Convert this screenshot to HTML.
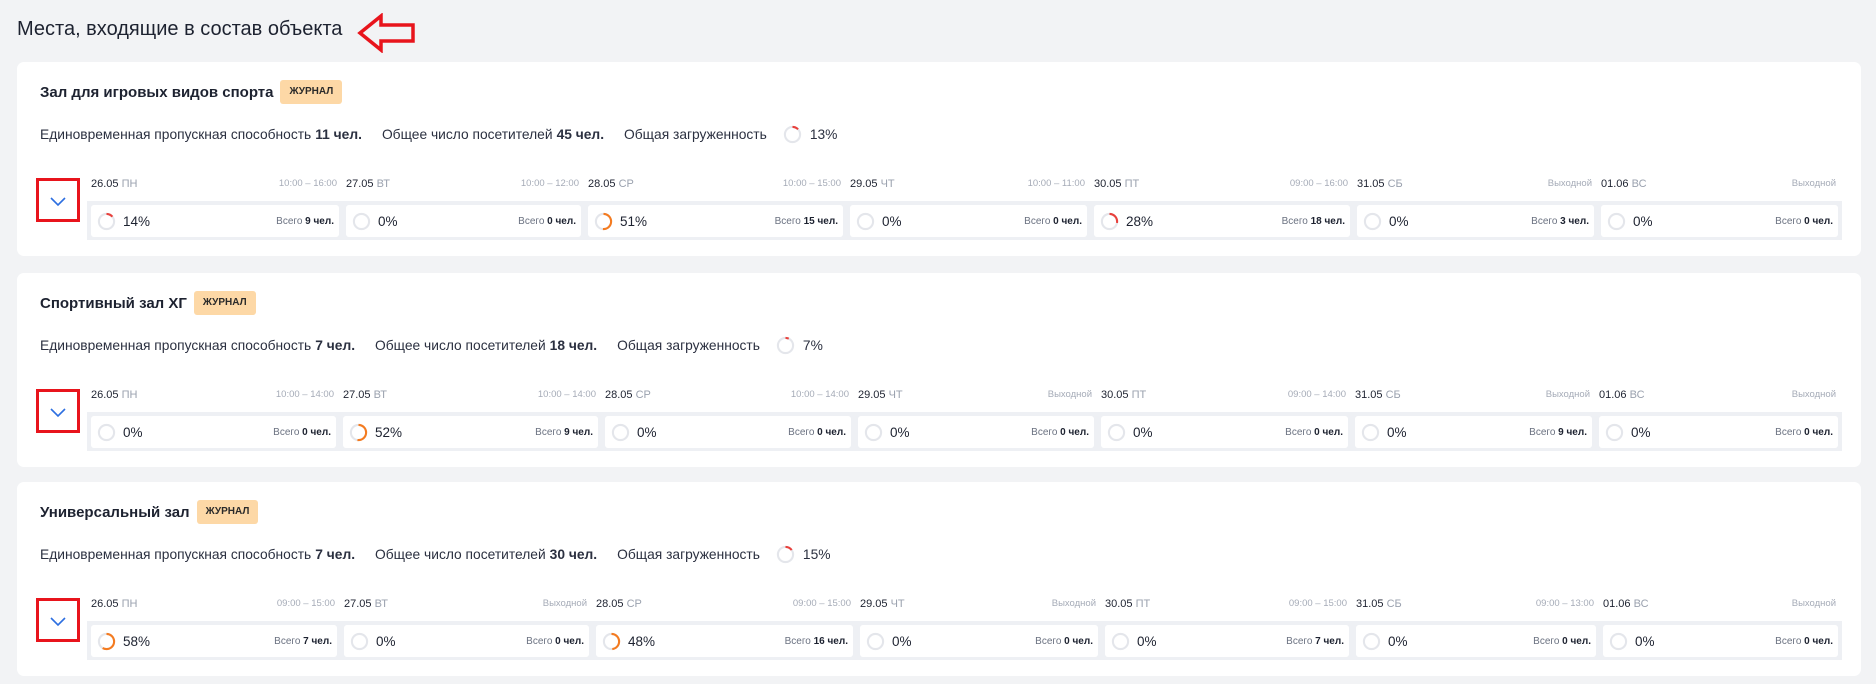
<!DOCTYPE html>
<html><head><meta charset="utf-8"><style>
*{margin:0;padding:0;box-sizing:border-box}
body{width:1876px;height:684px;background:#f2f3f5;font-family:"Liberation Sans","Noto Sans CJK SC",sans-serif;color:#1d2230;position:relative;overflow:hidden}
.ttl{position:absolute;left:17px;top:18px;font-size:20px;color:#1d2230}
.card{position:absolute;left:17px;width:1844px;height:194px;background:#fff;border-radius:7px}
.nm{position:absolute;left:23px;top:18px;font-size:15px;font-weight:bold;display:flex;align-items:center;height:24px}
.bd{margin-left:7px;background:#fdd8a6;border-radius:3px;font-size:10px;font-weight:bold;padding:0 9px;height:24px;line-height:24px;color:#2a2a2a}
.st{position:absolute;left:23px;top:63px;font-size:13.8px;color:#2b3040;display:flex;align-items:center;white-space:nowrap}
.st b{margin-left:4px}
.st .s{margin-left:20px}
.st svg{margin:0 8px 0 16px}
.chev{position:absolute;left:19px;top:116px;width:44px;height:44px;border:3px solid #e8141c}
.strip{position:absolute;left:70px;top:139px;width:1755px;height:39px;background:#eef0f4}
.c{position:absolute;top:112px}
.h{position:relative;height:20px;font-size:11px;line-height:20px;white-space:nowrap}
.h span{color:#9aa1ae}
.h i{position:absolute;right:2px;top:0;font-style:normal;font-size:9.5px;color:#a5abb7}
.b{position:absolute;top:31px;left:0;right:0;height:32px;background:#fff;border-radius:3px;display:flex;align-items:center}
.b svg{margin-left:6px}
.p{margin-left:7px;font-size:13.5px}
.t{position:absolute;right:5px;font-size:10px;color:#6a7180}
.t b{color:#1d2230;font-weight:bold}
</style></head><body>
<div class="ttl">Места, входящие в состав объекта</div>
<svg style="position:absolute;left:357px;top:13px" width="60" height="40" viewBox="0 0 60 40"><path d="M3 20 L24 3 L24 12 L56 12 L56 28 L24 28 L24 37 Z" fill="none" stroke="#e8141c" stroke-width="3.5" stroke-linejoin="miter"/></svg>

<!-- CARD 1 -->
<div class="card" style="top:62px">
<div class="nm">Зал для игровых видов спорта<span class="bd">ЖУРНАЛ</span></div>
<div class="st">Единовременная пропускная способность<b>11 чел.</b><span class="s">Общее число посетителей</span><b>45 чел.</b><span class="s">Общая загруженность</span><svg width="19" height="19" viewBox="0 0 20 20"><circle cx="10" cy="10" r="8" fill="none" stroke="#e4e6eb" stroke-width="2.2"/><circle cx="10" cy="10" r="8" fill="none" stroke="#e8413c" stroke-width="2.2" stroke-dasharray="6.5 50" transform="rotate(-90 10 10)"/></svg>13%</div>
<div class="chev"><svg width="38" height="38" viewBox="0 0 38 38"><path d="M12 17 L19 24 L26 17" fill="none" stroke="#2d6fe0" stroke-width="1.6"/></svg></div>
<div class="strip"></div>
<div class="c" style="left:74px;width:248px"><div class="h">26.05 <span>ПН</span><i>10:00 – 16:00</i></div><div class="b"><svg width="19" height="19" viewBox="0 0 20 20"><circle cx="10" cy="10" r="8" fill="none" stroke="#e4e6eb" stroke-width="2.2"/><circle cx="10" cy="10" r="8" fill="none" stroke="#e8413c" stroke-width="2.2" stroke-dasharray="7 50" transform="rotate(-90 10 10)"/></svg><span class="p">14%</span><span class="t">Всего <b>9 чел.</b></span></div></div>
<div class="c" style="left:329px;width:235px"><div class="h">27.05 <span>ВТ</span><i>10:00 – 12:00</i></div><div class="b"><svg width="19" height="19" viewBox="0 0 20 20"><circle cx="10" cy="10" r="8" fill="none" stroke="#e4e6eb" stroke-width="2.2"/></svg><span class="p">0%</span><span class="t">Всего <b>0 чел.</b></span></div></div>
<div class="c" style="left:571px;width:255px"><div class="h">28.05 <span>СР</span><i>10:00 – 15:00</i></div><div class="b"><svg width="19" height="19" viewBox="0 0 20 20"><circle cx="10" cy="10" r="8" fill="none" stroke="#e4e6eb" stroke-width="2.2"/><circle cx="10" cy="10" r="8" fill="none" stroke="#f47b20" stroke-width="2.2" stroke-dasharray="25.6 50" transform="rotate(-90 10 10)"/></svg><span class="p">51%</span><span class="t">Всего <b>15 чел.</b></span></div></div>
<div class="c" style="left:833px;width:237px"><div class="h">29.05 <span>ЧТ</span><i>10:00 – 11:00</i></div><div class="b"><svg width="19" height="19" viewBox="0 0 20 20"><circle cx="10" cy="10" r="8" fill="none" stroke="#e4e6eb" stroke-width="2.2"/></svg><span class="p">0%</span><span class="t">Всего <b>0 чел.</b></span></div></div>
<div class="c" style="left:1077px;width:256px"><div class="h">30.05 <span>ПТ</span><i>09:00 – 16:00</i></div><div class="b"><svg width="19" height="19" viewBox="0 0 20 20"><circle cx="10" cy="10" r="8" fill="none" stroke="#e4e6eb" stroke-width="2.2"/><circle cx="10" cy="10" r="8" fill="none" stroke="#e8413c" stroke-width="2.2" stroke-dasharray="14 50" transform="rotate(-90 10 10)"/></svg><span class="p">28%</span><span class="t">Всего <b>18 чел.</b></span></div></div>
<div class="c" style="left:1340px;width:237px"><div class="h">31.05 <span>СБ</span><i>Выходной</i></div><div class="b"><svg width="19" height="19" viewBox="0 0 20 20"><circle cx="10" cy="10" r="8" fill="none" stroke="#e4e6eb" stroke-width="2.2"/></svg><span class="p">0%</span><span class="t">Всего <b>3 чел.</b></span></div></div>
<div class="c" style="left:1584px;width:237px"><div class="h">01.06 <span>ВС</span><i>Выходной</i></div><div class="b"><svg width="19" height="19" viewBox="0 0 20 20"><circle cx="10" cy="10" r="8" fill="none" stroke="#e4e6eb" stroke-width="2.2"/></svg><span class="p">0%</span><span class="t">Всего <b>0 чел.</b></span></div></div>
</div>

<!-- CARD 2 -->
<div class="card" style="top:273px">
<div class="nm">Спортивный зал ХГ<span class="bd">ЖУРНАЛ</span></div>
<div class="st">Единовременная пропускная способность<b>7 чел.</b><span class="s">Общее число посетителей</span><b>18 чел.</b><span class="s">Общая загруженность</span><svg width="19" height="19" viewBox="0 0 20 20"><circle cx="10" cy="10" r="8" fill="none" stroke="#e4e6eb" stroke-width="2.2"/><circle cx="10" cy="10" r="8" fill="none" stroke="#e8413c" stroke-width="2.2" stroke-dasharray="3.5 50" transform="rotate(-90 10 10)"/></svg>7%</div>
<div class="chev"><svg width="38" height="38" viewBox="0 0 38 38"><path d="M12 17 L19 24 L26 17" fill="none" stroke="#2d6fe0" stroke-width="1.6"/></svg></div>
<div class="strip"></div>
<div class="c" style="left:74px;width:245px"><div class="h">26.05 <span>ПН</span><i>10:00 – 14:00</i></div><div class="b"><svg width="19" height="19" viewBox="0 0 20 20"><circle cx="10" cy="10" r="8" fill="none" stroke="#e4e6eb" stroke-width="2.2"/></svg><span class="p">0%</span><span class="t">Всего <b>0 чел.</b></span></div></div>
<div class="c" style="left:326px;width:255px"><div class="h">27.05 <span>ВТ</span><i>10:00 – 14:00</i></div><div class="b"><svg width="19" height="19" viewBox="0 0 20 20"><circle cx="10" cy="10" r="8" fill="none" stroke="#e4e6eb" stroke-width="2.2"/><circle cx="10" cy="10" r="8" fill="none" stroke="#f47b20" stroke-width="2.2" stroke-dasharray="26.1 50" transform="rotate(-90 10 10)"/></svg><span class="p">52%</span><span class="t">Всего <b>9 чел.</b></span></div></div>
<div class="c" style="left:588px;width:246px"><div class="h">28.05 <span>СР</span><i>10:00 – 14:00</i></div><div class="b"><svg width="19" height="19" viewBox="0 0 20 20"><circle cx="10" cy="10" r="8" fill="none" stroke="#e4e6eb" stroke-width="2.2"/></svg><span class="p">0%</span><span class="t">Всего <b>0 чел.</b></span></div></div>
<div class="c" style="left:841px;width:236px"><div class="h">29.05 <span>ЧТ</span><i>Выходной</i></div><div class="b"><svg width="19" height="19" viewBox="0 0 20 20"><circle cx="10" cy="10" r="8" fill="none" stroke="#e4e6eb" stroke-width="2.2"/></svg><span class="p">0%</span><span class="t">Всего <b>0 чел.</b></span></div></div>
<div class="c" style="left:1084px;width:247px"><div class="h">30.05 <span>ПТ</span><i>09:00 – 14:00</i></div><div class="b"><svg width="19" height="19" viewBox="0 0 20 20"><circle cx="10" cy="10" r="8" fill="none" stroke="#e4e6eb" stroke-width="2.2"/></svg><span class="p">0%</span><span class="t">Всего <b>0 чел.</b></span></div></div>
<div class="c" style="left:1338px;width:237px"><div class="h">31.05 <span>СБ</span><i>Выходной</i></div><div class="b"><svg width="19" height="19" viewBox="0 0 20 20"><circle cx="10" cy="10" r="8" fill="none" stroke="#e4e6eb" stroke-width="2.2"/></svg><span class="p">0%</span><span class="t">Всего <b>9 чел.</b></span></div></div>
<div class="c" style="left:1582px;width:239px"><div class="h">01.06 <span>ВС</span><i>Выходной</i></div><div class="b"><svg width="19" height="19" viewBox="0 0 20 20"><circle cx="10" cy="10" r="8" fill="none" stroke="#e4e6eb" stroke-width="2.2"/></svg><span class="p">0%</span><span class="t">Всего <b>0 чел.</b></span></div></div>
</div>

<!-- CARD 3 -->
<div class="card" style="top:482px">
<div class="nm">Универсальный зал<span class="bd">ЖУРНАЛ</span></div>
<div class="st">Единовременная пропускная способность<b>7 чел.</b><span class="s">Общее число посетителей</span><b>30 чел.</b><span class="s">Общая загруженность</span><svg width="19" height="19" viewBox="0 0 20 20"><circle cx="10" cy="10" r="8" fill="none" stroke="#e4e6eb" stroke-width="2.2"/><circle cx="10" cy="10" r="8" fill="none" stroke="#e8413c" stroke-width="2.2" stroke-dasharray="7.5 50" transform="rotate(-90 10 10)"/></svg>15%</div>
<div class="chev"><svg width="38" height="38" viewBox="0 0 38 38"><path d="M12 17 L19 24 L26 17" fill="none" stroke="#2d6fe0" stroke-width="1.6"/></svg></div>
<div class="strip"></div>
<div class="c" style="left:74px;width:246px"><div class="h">26.05 <span>ПН</span><i>09:00 – 15:00</i></div><div class="b"><svg width="19" height="19" viewBox="0 0 20 20"><circle cx="10" cy="10" r="8" fill="none" stroke="#e4e6eb" stroke-width="2.2"/><circle cx="10" cy="10" r="8" fill="none" stroke="#f47b20" stroke-width="2.2" stroke-dasharray="29.2 50" transform="rotate(-90 10 10)"/></svg><span class="p">58%</span><span class="t">Всего <b>7 чел.</b></span></div></div>
<div class="c" style="left:327px;width:245px"><div class="h">27.05 <span>ВТ</span><i>Выходной</i></div><div class="b"><svg width="19" height="19" viewBox="0 0 20 20"><circle cx="10" cy="10" r="8" fill="none" stroke="#e4e6eb" stroke-width="2.2"/></svg><span class="p">0%</span><span class="t">Всего <b>0 чел.</b></span></div></div>
<div class="c" style="left:579px;width:257px"><div class="h">28.05 <span>СР</span><i>09:00 – 15:00</i></div><div class="b"><svg width="19" height="19" viewBox="0 0 20 20"><circle cx="10" cy="10" r="8" fill="none" stroke="#e4e6eb" stroke-width="2.2"/><circle cx="10" cy="10" r="8" fill="none" stroke="#f47b20" stroke-width="2.2" stroke-dasharray="24.1 50" transform="rotate(-90 10 10)"/></svg><span class="p">48%</span><span class="t">Всего <b>16 чел.</b></span></div></div>
<div class="c" style="left:843px;width:238px"><div class="h">29.05 <span>ЧТ</span><i>Выходной</i></div><div class="b"><svg width="19" height="19" viewBox="0 0 20 20"><circle cx="10" cy="10" r="8" fill="none" stroke="#e4e6eb" stroke-width="2.2"/></svg><span class="p">0%</span><span class="t">Всего <b>0 чел.</b></span></div></div>
<div class="c" style="left:1088px;width:244px"><div class="h">30.05 <span>ПТ</span><i>09:00 – 15:00</i></div><div class="b"><svg width="19" height="19" viewBox="0 0 20 20"><circle cx="10" cy="10" r="8" fill="none" stroke="#e4e6eb" stroke-width="2.2"/></svg><span class="p">0%</span><span class="t">Всего <b>7 чел.</b></span></div></div>
<div class="c" style="left:1339px;width:240px"><div class="h">31.05 <span>СБ</span><i>09:00 – 13:00</i></div><div class="b"><svg width="19" height="19" viewBox="0 0 20 20"><circle cx="10" cy="10" r="8" fill="none" stroke="#e4e6eb" stroke-width="2.2"/></svg><span class="p">0%</span><span class="t">Всего <b>0 чел.</b></span></div></div>
<div class="c" style="left:1586px;width:235px"><div class="h">01.06 <span>ВС</span><i>Выходной</i></div><div class="b"><svg width="19" height="19" viewBox="0 0 20 20"><circle cx="10" cy="10" r="8" fill="none" stroke="#e4e6eb" stroke-width="2.2"/></svg><span class="p">0%</span><span class="t">Всего <b>0 чел.</b></span></div></div>
</div>
</body></html>
